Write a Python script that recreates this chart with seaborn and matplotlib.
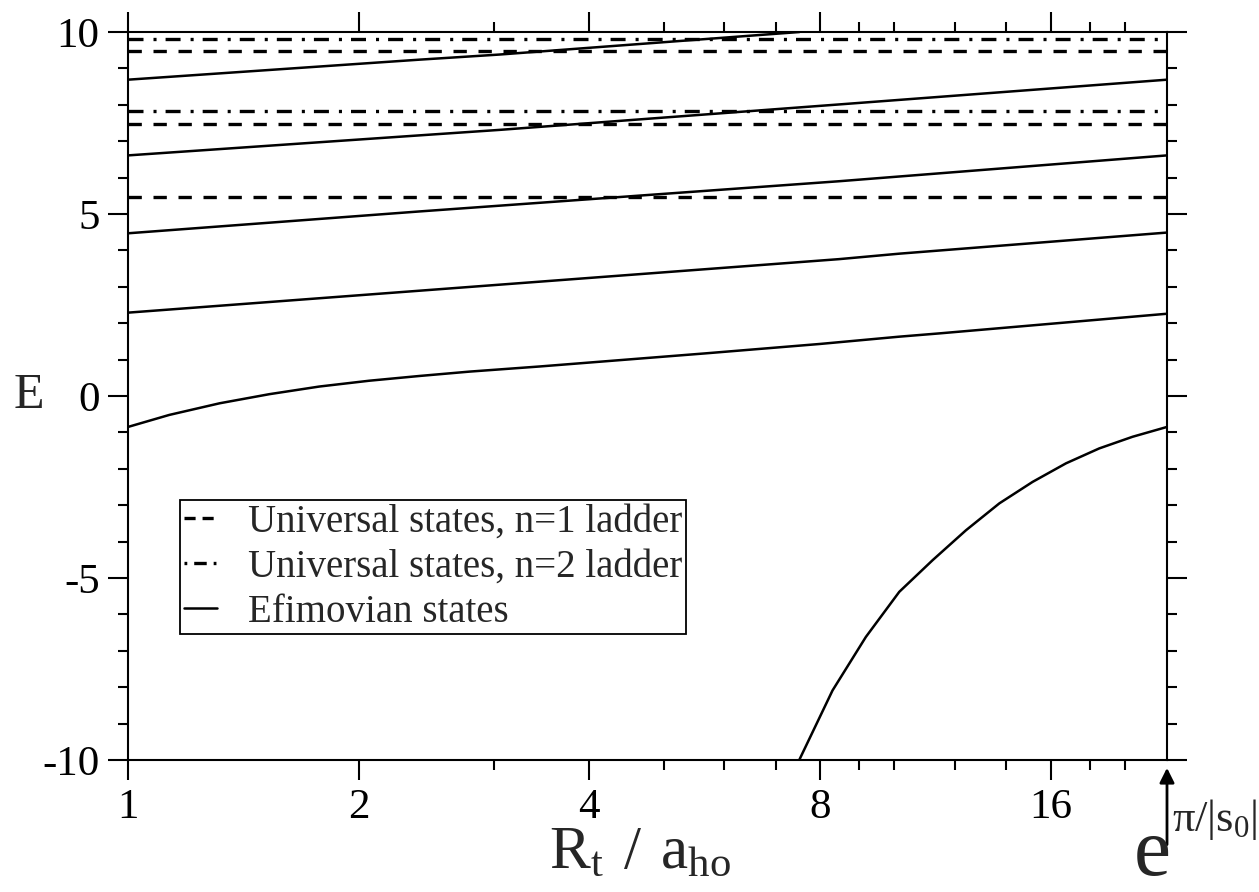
import matplotlib
matplotlib.use("Agg")
import matplotlib.pyplot as plt
import seaborn as sns
from matplotlib.ticker import FixedLocator, NullFormatter
from matplotlib.lines import Line2D

# x runs from 1 to e^(pi/|s0|)
X_END = 22.69

# Efimovian states (R_t / a_ho, E)
eff1_r = [1.0, 2.40, 3.05, 7.52]
eff1_e = [8.69, 9.24, 9.38, 10.0]
eff2_r = [1.0, 2.40, 3.05, 8.47, 22.69]
eff2_e = [6.61, 7.16, 7.31, 8.01, 8.69]
eff3_r = [1.0, 2.40, 8.47, 22.69]
eff3_e = [4.47, 5.07, 5.90, 6.61]
eff4_r = [1.0, 3.44, 8.47, 10.15, 22.69]
eff4_e = [2.29, 3.14, 3.76, 3.91, 4.49]
eff5_r = [1.0, 1.132, 1.317, 1.529, 1.777, 2.065, 2.40, 2.79, 3.44, 5.66, 8.0, 10.15, 11.45, 22.69]
eff5_e = [-0.85, -0.52, -0.20, 0.05, 0.26, 0.42, 0.55, 0.67, 0.81, 1.17, 1.43, 1.63, 1.72, 2.26]
eff6_r = [7.515, 8.305, 9.18, 10.15, 11.22, 12.40, 13.71, 15.15, 16.75, 18.51, 20.46, 22.69]
eff6_e = [-10.0, -8.09, -6.62, -5.38, -4.51, -3.69, -2.95, -2.36, -1.85, -1.44, -1.12, -0.85]

# universal states (constant energies)
ladder1_e = [5.47, 7.47, 9.47]
ladder2_e = [7.82, 9.82]

x_major = [1, 2, 4, 8, 16]
x_minor = [3, 5, 6, 7, 9, 10, 12, 14, 18, 20]
y_major = [-10, -5, 0, 5, 10]
y_minor = [-9, -8, -7, -6, -4, -3, -2, -1, 1, 2, 3, 4, 6, 7, 8, 9]

sns.set_theme(style="ticks")
plt.rcParams['font.family'] = ['Liberation Serif', 'DejaVu Serif']
plt.rcParams['mathtext.fontset'] = 'custom'
plt.rcParams['mathtext.rm'] = 'Liberation Serif'
plt.rcParams['axes.unicode_minus'] = False
plt.rcParams['lines.scale_dashes'] = False

fig = plt.figure(figsize=(12.59, 8.92), dpi=100)
ax = fig.add_axes([128 / 1259, 132 / 892, 1039 / 1259, 728 / 892])

dash = (0, (9.6, 8.4))
dashdot = (0, (10.8, 7.2, 2.2, 6.5))

for e in ladder1_e:
    sns.lineplot(x=[1, X_END], y=[e, e], ax=ax, color='black', lw=2.4, linestyle=dash)
for e in ladder2_e:
    sns.lineplot(x=[1, X_END], y=[e, e], ax=ax, color='black', lw=2.4, linestyle=dashdot)

curves = [(eff1_r, eff1_e), (eff2_r, eff2_e), (eff3_r, eff3_e),
          (eff4_r, eff4_e), (eff5_r, eff5_e), (eff6_r, eff6_e)]
for r, e in curves:
    sns.lineplot(x=r, y=e, ax=ax, color='black', lw=1.8, sort=False, estimator=None)

ax.set_xscale('log', base=2)
ax.set_xlim(1, X_END)
ax.set_ylim(-10, 10)

ax.xaxis.set_major_locator(FixedLocator(x_major))
ax.xaxis.set_minor_locator(FixedLocator(x_minor))
ax.set_xticklabels([str(v) for v in x_major])
ax.xaxis.set_minor_formatter(NullFormatter())
ax.yaxis.set_major_locator(FixedLocator(y_major))
ax.yaxis.set_minor_locator(FixedLocator(y_minor))

for s in ax.spines.values():
    s.set_linewidth(1.5)
    s.set_color('black')
ax.tick_params(which='both', direction='out', top=True, right=True,
               width=1.5, color='black', labelsize=31, labelcolor='black')
ax.tick_params(which='major', length=14.4, pad=6)
ax.tick_params(which='minor', length=7.2)
ax.set_ylabel('E', rotation=0, fontsize=36, ha='center', va='center')
ax.yaxis.set_label_coords(-0.095, 0.5)

fig.text(640 / 1259, 1 - 868 / 892, r'$\mathregular{R_t\ /\ a_{ho}}$',
         fontsize=44, ha='center', va='baseline')
fig.text(1134 / 1259, 1 - 875 / 892, 'e', fontsize=60, ha='left', va='baseline')
fig.text(1258 / 1259, 1 - 831 / 892, r'$\mathregular{π/|s_0|}$',
         fontsize=32, ha='right', va='baseline')
ax.annotate('', xy=(X_END, -0.007), xytext=(X_END, -0.12),
            xycoords=('data', 'axes fraction'), textcoords=('data', 'axes fraction'),
            arrowprops=dict(arrowstyle='-|>', color='black', lw=2, mutation_scale=22),
            annotation_clip=False)

handles = [
    Line2D([], [], color='black', lw=2.4, linestyle=(0, (8, 5))),
    Line2D([], [], color='black', lw=2.4, linestyle=(0, (2, 5, 9, 5))),
    Line2D([], [], color='black', lw=1.8),
]
labels = ['Universal states, n=1 ladder', 'Universal states, n=2 ladder', 'Efimovian states']
leg = ax.legend(handles, labels, loc='upper left', bbox_to_anchor=(0.05, 0.357),
                borderaxespad=0, fontsize=28, frameon=True, fancybox=False,
                framealpha=1, edgecolor='black', handlelength=0.85, handletextpad=0.8,
                labelspacing=0.2, borderpad=0.1)
leg.get_frame().set_linewidth(1.3)

fig.savefig('out.png', dpi=100)
